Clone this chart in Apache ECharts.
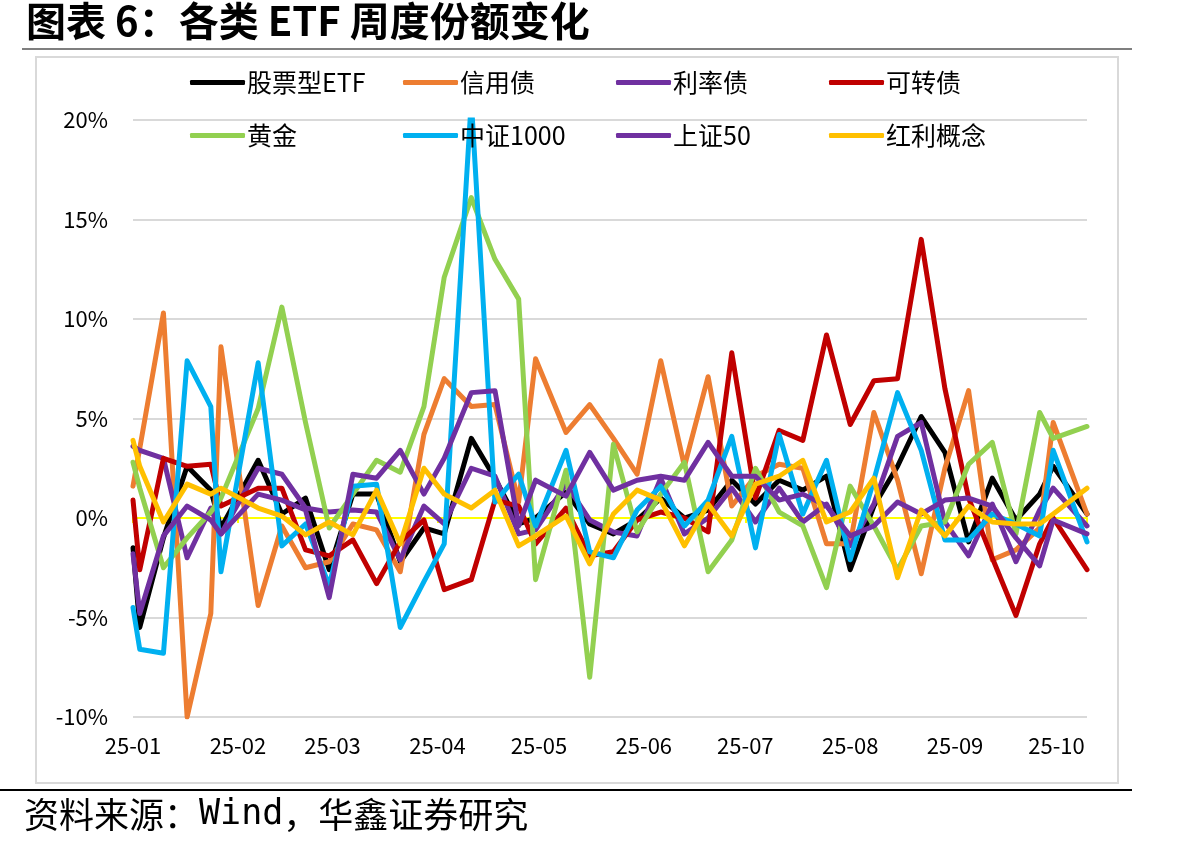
<!DOCTYPE html>
<html>
<head>
<meta charset="utf-8">
<script src="https://cdn.jsdelivr.net/npm/echarts@6/dist/echarts.min.js"></script>
<style>
html,body{margin:0;padding:0;background:#fff;}
#main{width:1180px;height:851px;}
</style>
</head>
<body>
<div id="main"></div>
<script>
// 周度日期（节假日前后取最后交易日）
var dates = ['2025-01-01','2025-01-03','2025-01-10','2025-01-17','2025-01-24','2025-01-27',
  '2025-02-07','2025-02-14','2025-02-21','2025-02-28','2025-03-07','2025-03-14','2025-03-21','2025-03-28',
  '2025-04-03','2025-04-11','2025-04-18','2025-04-25','2025-04-30','2025-05-09','2025-05-16','2025-05-23','2025-05-30',
  '2025-06-06','2025-06-13','2025-06-20','2025-06-27','2025-07-04','2025-07-11','2025-07-18','2025-07-25',
  '2025-08-01','2025-08-08','2025-08-15','2025-08-22','2025-08-29','2025-09-05','2025-09-12','2025-09-19',
  '2025-09-26','2025-09-30','2025-10-10'];

// 各类ETF份额周度变化（%）
var stockEtf = [-1.5,-5.5,-1.0,2.6,1.4,-0.5,2.9,0.2,1.0,-2.6,1.2,1.2,-2.2,-0.5,-0.8,4.0,2.0,-0.3,0.0,1.3,-0.3,-0.8,-0.1,1.0,0.0,0.4,1.9,0.7,1.9,1.4,2.1,-2.6,0.6,2.6,5.1,3.3,-1.2,2.0,-0.1,1.2,2.6,0.2];
var creditBond = [1.6,3.5,10.3,-10.0,-4.8,8.6,-4.4,-0.4,-2.5,-2.2,-0.3,-0.6,-2.7,4.2,7.0,5.6,5.7,0.8,8.0,4.3,5.7,4.0,2.2,7.9,2.6,7.1,0.6,2.1,2.7,2.5,-1.3,-1.3,5.3,1.9,-2.8,2.5,6.4,-2.1,-1.6,-0.5,4.8,0.2];
var rateBond = [3.6,3.4,3.0,-2.0,0.5,-0.8,2.5,2.2,0.5,0.3,0.4,0.3,-2.1,0.6,-0.3,2.5,2.1,-0.8,-0.6,1.7,-0.1,-0.7,-0.9,2.0,-0.8,0.0,1.5,-0.2,1.5,-0.2,0.7,-1.4,0.7,4.1,4.8,-0.2,-1.9,0.7,-2.2,0.4,1.5,-0.4];
var convBond = [0.9,-2.6,3.0,2.6,2.7,0.6,1.5,1.5,-1.6,-1.9,-1.1,-3.3,-1.2,-0.1,-3.6,-3.1,0.9,0.6,-1.3,0.5,-1.9,-1.7,-0.1,0.3,0.0,-0.7,8.3,1.0,4.4,3.9,9.2,4.7,6.9,7.0,14.0,6.5,1.0,-2.0,-4.9,-1.3,0.0,-2.6];
var gold = [2.8,1.5,-2.5,-1.0,0.3,1.0,5.5,10.6,4.8,-0.5,1.2,2.9,2.3,5.6,12.1,16.1,13.0,11.0,-3.1,2.4,-8.0,3.7,-0.7,1.2,2.8,-2.7,-1.1,2.5,0.3,-0.4,-3.5,1.6,-0.4,-2.6,-0.4,-0.2,2.7,3.8,-0.8,5.3,4.0,4.6];
var csi1000 = [-4.5,-6.6,-6.8,7.9,5.6,-2.7,7.8,-1.4,-0.3,-3.4,1.6,1.7,-5.5,-3.2,-1.3,21,0.8,2.2,-0.4,3.4,-1.7,-2.0,0.4,1.6,-0.4,0.9,4.1,-1.5,4.2,0.2,2.9,-2.1,1.9,6.3,3.4,-1.1,-1.1,0.2,-0.3,-0.9,3.4,-1.2];
var sse50 = [-1.8,-4.8,-0.9,0.6,-0.1,-0.8,1.2,0.9,0.4,-4.0,2.2,2.0,3.4,1.2,3.0,6.3,6.4,-0.4,1.9,1.1,3.3,1.4,1.9,2.1,1.9,3.8,2.1,2.1,0.9,1.2,0.6,-0.9,-0.4,0.8,0.2,0.9,1.0,0.6,-1.0,-2.4,-0.1,-0.8];
var dividend = [3.9,2.6,-0.2,1.7,1.2,1.5,0.5,0.1,-0.85,-0.2,-0.85,1.4,-1.3,2.5,1.2,0.5,1.4,-1.4,-0.9,0.1,-2.3,0.2,1.4,0.9,-1.4,0.7,-0.9,1.7,2.1,2.9,-0.2,0.3,2.0,-3.0,0.4,-0.9,0.6,-0.2,-0.3,-0.3,0.2,1.5];

var names = ['股票型ETF','信用债','利率债','可转债','黄金','中证1000','上证50','红利概念'];
var values = [stockEtf, creditBond, rateBond, convBond, gold, csi1000, sse50, dividend];
var colors = ['#000000','#ED7D31','#7030A0','#C00000','#92D050','#00B0F0','#7030A0','#FFC000'];

var yTicks = [-10, -5, 0, 5, 10, 15, 20];
var fontCn = '"Noto Sans CJK SC", "Noto Sans", sans-serif';
var DAY = 86400000;

var chart = echarts.init(document.getElementById('main'));

var legends = names.map(function(n, i){
	return {
		data: [n],
		left: 185 + (i % 4) * 213,
		top: i < 4 ? 65 : 118,
		icon: 'roundRect',
		itemWidth: 55,
		itemHeight: 5,
		itemGap: 0,
		selectedMode: false,
		textStyle: {fontSize: 25, color: '#000', fontFamily: fontCn, padding: [0, 0, 0, -3]}
	};
});

var series = names.map(function(n, i){
	return {
		name: n,
		type: 'line',
		xAxisIndex: 0,
		symbol: 'none',
		color: colors[i],
		lineStyle: {width: 5, color: colors[i], cap: 'round', join: 'round'},
		data: dates.map(function(d, k){ return [d, values[i][k]]; })
	};
});

function monthLabel(v){
	var d = new Date(v);
	if (d.getDate() !== 1) return '';
	var m = d.getMonth() + 1;
	return String(d.getFullYear()).slice(2) + '-' + (m < 10 ? '0' + m : m);
}

var option = {
	backgroundColor: '#fff',
	animation: false,
	graphic: [
		{type: 'rect', z: -10, shape: {x: 36, y: 57, width: 1082, height: 726}, style: {fill: '#fff', stroke: '#d9d9d9', lineWidth: 2}},
		{type: 'text', left: 26, top: 1, style: {text: '图表 6：各类 ETF 周度份额变化', font: 'bold 40px ' + fontCn, fill: '#000'}},
		{type: 'line', shape: {x1: 22, y1: 49, x2: 1132, y2: 49}, style: {stroke: '#7f7f7f', lineWidth: 2}},
		{type: 'line', shape: {x1: 0, y1: 790, x2: 1132, y2: 790}, style: {stroke: '#000', lineWidth: 2}},
		{type: 'text', left: 24, top: 797, style: {
			text: '{a|资料来源：}{b|Wind}{a|，华鑫证券研究}',
			rich: {
				a: {font: '35px ' + fontCn, fill: '#000'},
				b: {font: '35px "DejaVu Sans Mono", monospace', fill: '#000'}
			}
		}}
	],
	legend: legends,
	grid: {left: 133, right: 93, top: 120, bottom: 134, containLabel: false},
	xAxis: [
		{
			type: 'time',
			min: dates[0],
			max: dates[dates.length - 1],
			minInterval: 28 * DAY,
			maxInterval: 31 * DAY,
			axisLine: {show: false, onZero: false},
			axisTick: {show: false},
			splitLine: {show: false},
			axisLabel: {
				formatter: monthLabel,
				fontSize: 22,
				color: '#000',
				fontFamily: fontCn,
				margin: 18,
				hideOverlap: false
			}
		},
		{
			type: 'time',
			position: 'bottom',
			min: dates[0],
			max: dates[dates.length - 1],
			minInterval: 28 * DAY,
			maxInterval: 31 * DAY,
			axisLine: {show: true, onZero: true, onZeroAxisIndex: 0, lineStyle: {color: '#FFFF00', width: 2}},
			axisTick: {show: true, length: 5, lineStyle: {color: '#FFFF00', width: 2}},
			axisLabel: {show: false},
			splitLine: {show: false}
		}
	],
	yAxis: {
		type: 'value',
		min: yTicks[0],
		max: yTicks[yTicks.length - 1],
		interval: 5,
		axisLine: {show: false},
		axisTick: {show: false},
		splitLine: {lineStyle: {color: '#d9d9d9', width: 2}},
		axisLabel: {
			formatter: '{value}%',
			fontSize: 22,
			color: '#000',
			fontFamily: fontCn,
			margin: 25
		}
	},
	series: series
};

chart.setOption(option);
</script>
</body>
</html>
